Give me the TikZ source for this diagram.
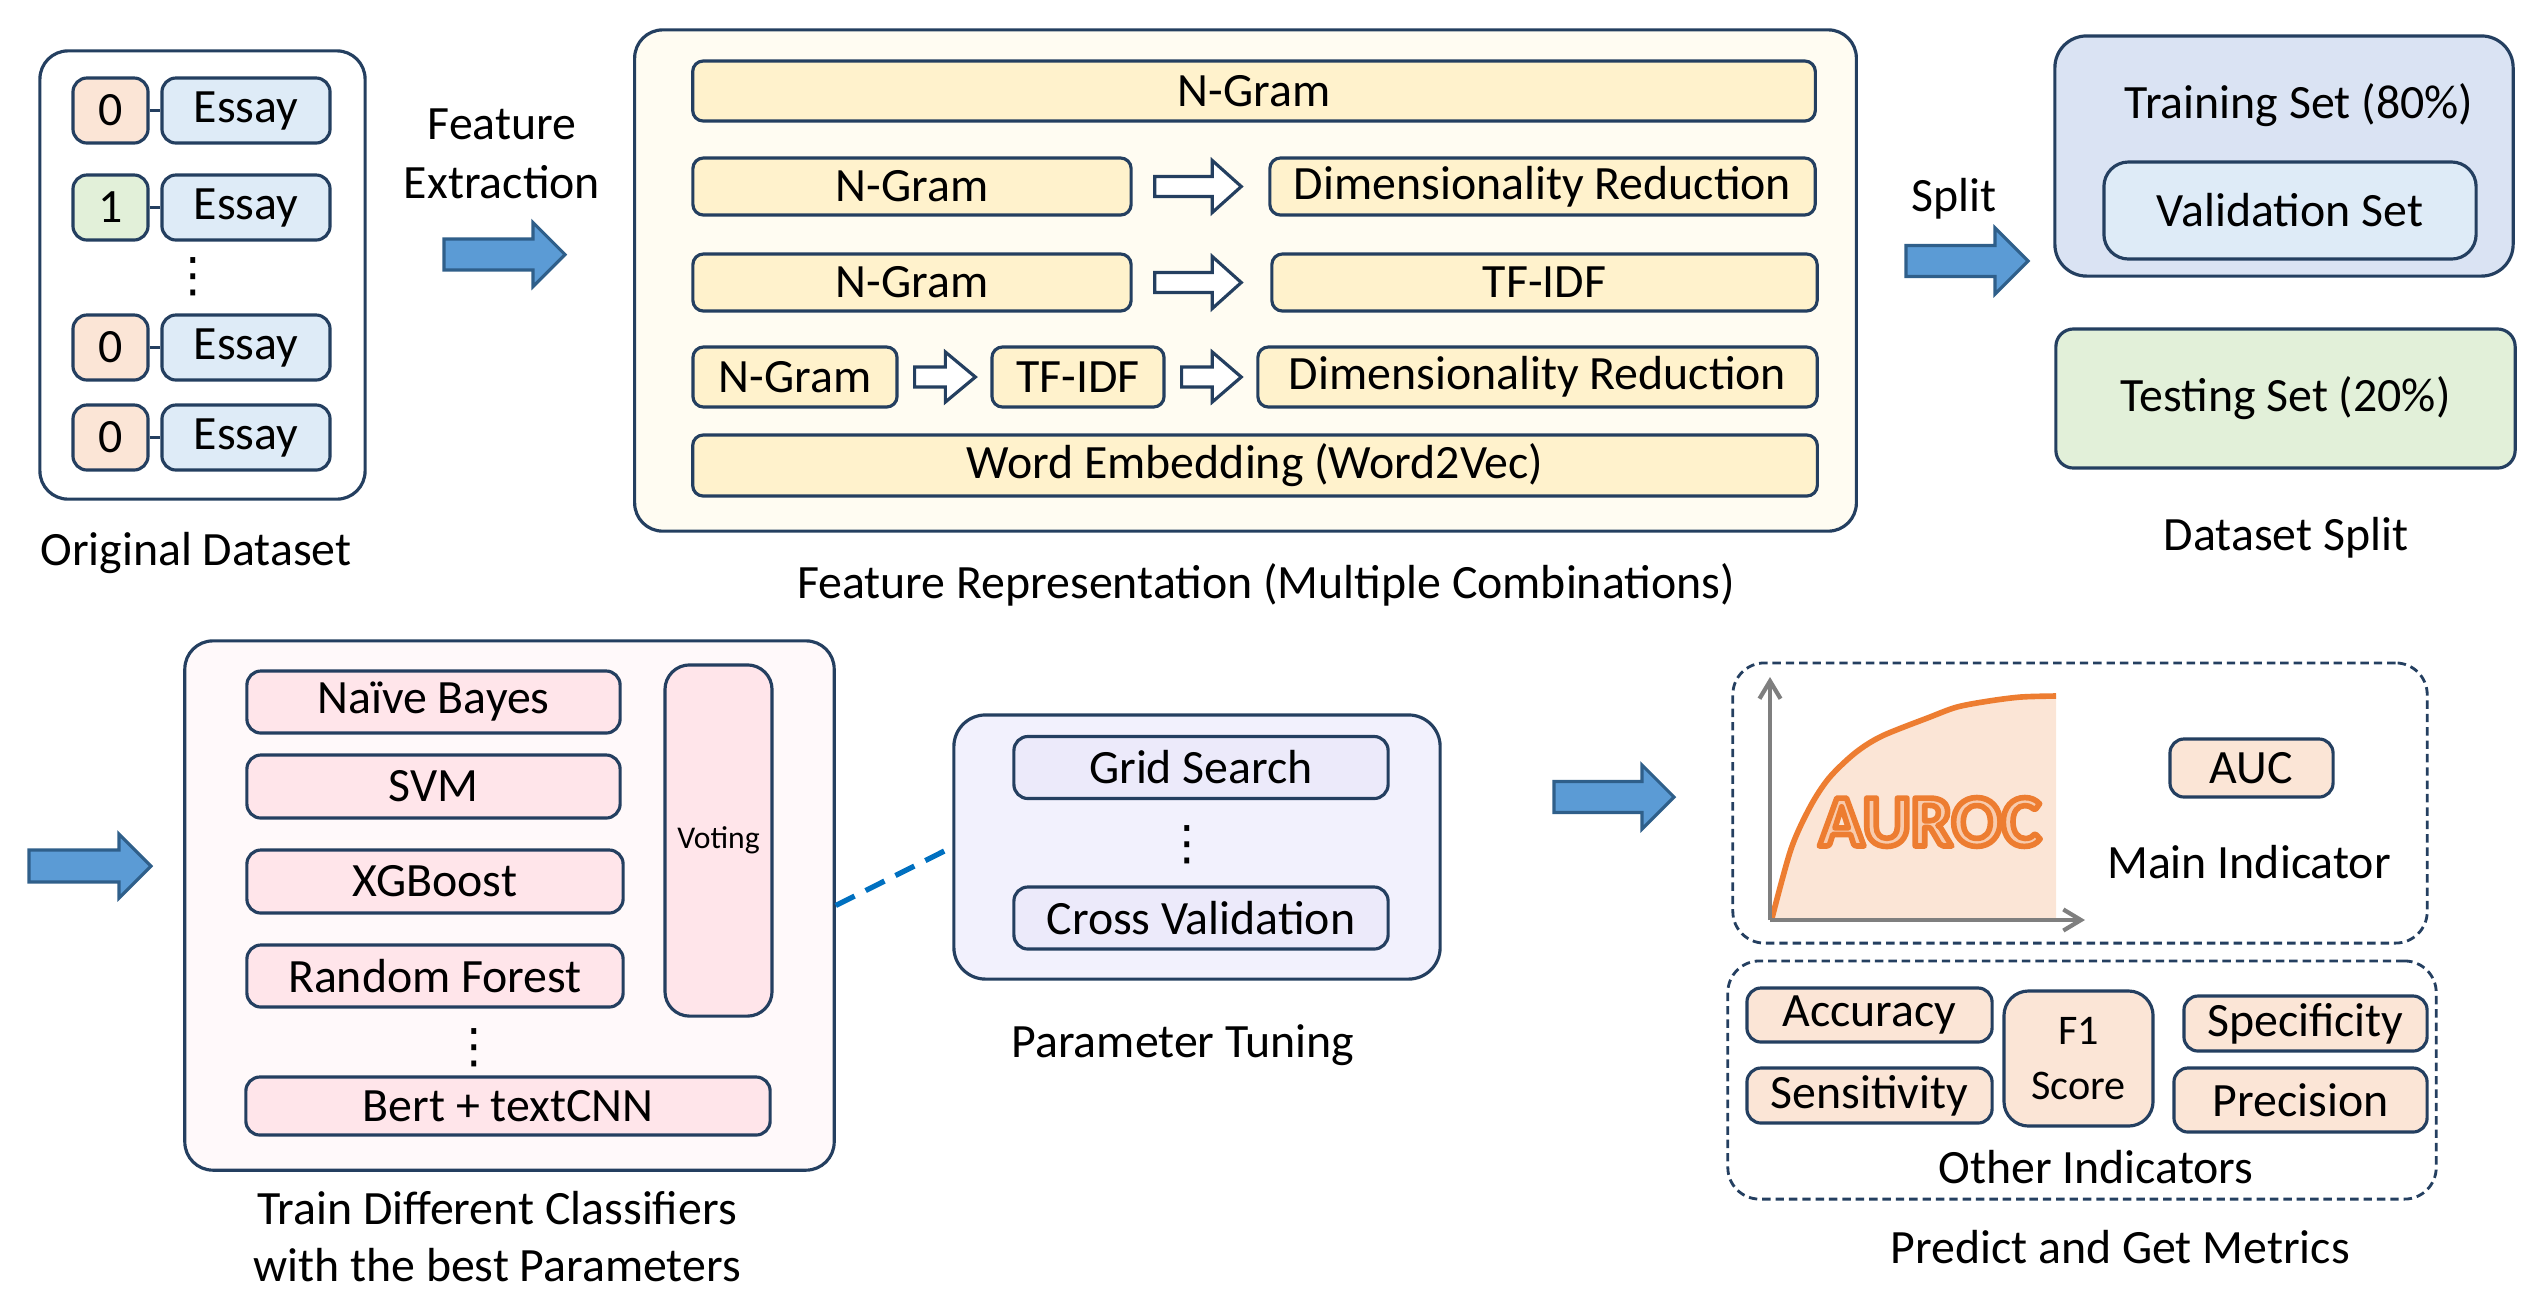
\documentclass[tikz,border=0pt]{standalone}
\usepackage{fontspec}
\setmainfont{Carlito}
\newfontfamily\symbolFont{DejaVu Sans}
\usetikzlibrary{arrows.meta, calc, positioning}
\definecolor{edgeBlue}{HTML}{243F60}
\definecolor{peach}{HTML}{FBE5D6}
\definecolor{greenFill}{HTML}{E2F0D9}
\definecolor{paleBlue}{HTML}{DEEBF7}
\definecolor{trainFill}{HTML}{DAE3F3}
\definecolor{cream}{HTML}{FFF2CC}
\definecolor{creamBg}{HTML}{FFFCF2}
\definecolor{pinkFill}{HTML}{FFE5EA}
\definecolor{pinkBg}{HTML}{FFF9FA}
\definecolor{lavBg}{HTML}{F2F1FD}
\definecolor{lavFill}{HTML}{ECEAFA}
\definecolor{arrowBlue}{HTML}{5B9BD5}
\definecolor{arrowEdge}{HTML}{2F5F8A}
\definecolor{linkBlue}{HTML}{0070C0}
\definecolor{axisGray}{HTML}{7F7F7F}
\definecolor{curveOrange}{HTML}{ED7D31}
\definecolor{aurocFill}{HTML}{F8CBAD}
\newcommand{\mainsize}{\fontsize{13.6}{16.6}\selectfont}
\tikzset{
    box/.style={draw=edgeBlue, line width=0.9pt, rounded corners=4pt, inner sep=0pt, align=center, font=\mainsize},
    outerBox/.style={box, rounded corners=8pt},
    labelBox/.style={box, minimum width=0.75cm, minimum height=0.65cm},
    essayBox/.style={box, fill=paleBlue, minimum width=1.68cm, minimum height=0.65cm},
    featBox/.style={box, fill=cream, rounded corners=3pt},
    clfBox/.style={box, fill=pinkFill},
    tuneBox/.style={box, fill=lavFill, minimum width=3.74cm, minimum height=0.62cm},
    metricBox/.style={box, fill=peach},
    groupBox/.style={draw=edgeBlue, line width=0.8pt, dash pattern=on 2.4pt off 1.4pt, rounded corners=9pt},
    caption/.style={font=\mainsize, align=center, inner sep=0pt},
    dotsText/.style={font=\symbolFont\fontsize{13.5}{14}\selectfont, inner sep=0pt},
    tie/.style={draw=edgeBlue, line width=0.9pt},
    bigArrow/.style={draw=arrowEdge, fill=arrowBlue, line width=0.9pt},
    hollowArrow/.style={draw=edgeBlue, fill=white, line width=0.9pt},
    tuneLink/.style={draw=linkBlue, line width=1.5pt, dash pattern=on 6pt off 3.5pt},
    axisLine/.style={draw=axisGray, line width=1.2pt, -{Straight Barb[length=5pt, width=6pt]}},
    aurocText/.style={font=\fontsize{21}{24}\selectfont\bfseries, inner sep=0pt},
}
% tail, tip, shaft half width, head half width, head length
\newcommand{\drawFatArrow}[6][bigArrow]{
    \draw[#1] ($(#2)+(0,-#4)$) -- ($(#3)+(-#6,-#4)$) -- ($(#3)+(-#6,-#5)$) -- (#3)
        -- ($(#3)+(-#6,#5)$) -- ($(#3)+(-#6,#4)$) -- ($(#2)+(0,#4)$) -- cycle;
}
% stroked and filled letters
\newcommand{\outlineWord}[1]{{\color{aurocFill}\special{pdf:literal direct 2 Tr 1.6 w 1 j 0.929 0.490 0.192 RG}#1\special{pdf:literal direct 0 Tr}}}

\begin{document}
\begin{tikzpicture}[x=0.01cm, y=-0.01cm]
    \useasboundingbox (0,0) rectangle (2540,1296);

    % original dataset
    \node[outerBox, fill=white, minimum width=3.25cm, minimum height=4.48cm] (data) at (202.5,275) {};
    \node[labelBox, fill=peach] (lab1) at (110.5,110.5) {0};
    \node[essayBox] (ess1) at (246,110.5) {Essay};
    \node[labelBox, fill=greenFill] (lab2) at (110.5,207.5) {1};
    \node[essayBox] (ess2) at (246,207.5) {Essay};
    \node[dotsText] (dotsA) at (193,277) {⋮};
    \node[labelBox, fill=peach] (lab3) at (110.5,347.5) {0};
    \node[essayBox] (ess3) at (246,347.5) {Essay};
    \node[labelBox, fill=peach] (lab4) at (110.5,437.5) {0};
    \node[essayBox] (ess4) at (246,437.5) {Essay};
    \draw[tie] (lab1) -- (ess1);
    \draw[tie] (lab2) -- (ess2);
    \draw[tie] (lab3) -- (ess3);
    \draw[tie] (lab4) -- (ess4);
    \node[caption] (dataCap) at (196,553) {Original Dataset};

    \node[caption, font=\fontsize{13.6}{16.8}\selectfont] (extractCap) at (502,154) {Feature\\Extraction};
    \coordinate (extTail) at (444,254.5);
    \coordinate (extTip) at (565,254.5);
    \drawFatArrow{extTail}{extTip}{15.5}{32}{32}

    % feature representation
    \node[outerBox, fill=creamBg, minimum width=12.21cm, minimum height=5.01cm] (feat) at (1245.5,280.5) {};
    \node[featBox, minimum width=11.22cm, minimum height=0.6cm] (ngA) at (1254,91) {N-Gram};
    \node[featBox, minimum width=4.38cm, minimum height=0.57cm] (ngB) at (912,186.5) {N-Gram};
    \node[featBox, minimum width=5.45cm, minimum height=0.57cm] (drB) at (1542.5,186.5) {Dimensionality Reduction};
    \node[featBox, minimum width=4.38cm, minimum height=0.57cm] (ngC) at (912,282.5) {N-Gram};
    \node[featBox, minimum width=5.45cm, minimum height=0.57cm] (tfC) at (1544.5,282.5) {TF-IDF};
    \node[featBox, minimum width=2.04cm, minimum height=0.6cm] (ngD) at (795,377) {N-Gram};
    \node[featBox, minimum width=1.72cm, minimum height=0.6cm] (tfD) at (1078,377) {TF-IDF};
    \node[featBox, minimum width=5.59cm, minimum height=0.6cm] (drD) at (1537.5,377) {Dimensionality Reduction};
    \node[featBox, minimum width=11.24cm, minimum height=0.61cm] (w2v) at (1255,465.5) {Word Embedding (Word2Vec)};
    \coordinate (hB1) at ($(ngB.east)+(22,0)$);
    \coordinate (hB2) at ($(drB.west)+(-27,0)$);
    \coordinate (hC1) at ($(ngC.east)+(22,0)$);
    \coordinate (hC2) at ($(tfC.west)+(-29,0)$);
    \coordinate (hD1) at ($(ngD.east)+(16,0)$);
    \coordinate (hD2) at ($(tfD.west)+(-15,0)$);
    \coordinate (hD3) at ($(tfD.east)+(16,0)$);
    \coordinate (hD4) at ($(drD.west)+(-15,0)$);
    \drawFatArrow[hollowArrow]{hB1}{hB2}{10}{26}{29}
    \drawFatArrow[hollowArrow]{hC1}{hC2}{10}{26}{29}
    \drawFatArrow[hollowArrow]{hD1}{hD2}{10}{25}{30}
    \drawFatArrow[hollowArrow]{hD3}{hD4}{10}{25}{29}
    \node[caption] (featCap) at (1266,585) {Feature Representation (Multiple Combinations)};

    % dataset split
    \node[caption] (splitCap) at (1954,199) {Split};
    \coordinate (splTail) at (1906,261);
    \coordinate (splTip) at (2028,261);
    \drawFatArrow{splTail}{splTip}{15.5}{33}{33}
    \node[outerBox, fill=trainFill, rounded corners=9pt, minimum width=4.58cm, minimum height=2.4cm] (train) at (2284,156) {};
    \node[caption] (trainTxt) at (2299,105) {Training Set (80\%)};
    \node[box, fill=paleBlue, rounded corners=7pt, minimum width=3.72cm, minimum height=0.97cm] (valid) at (2290,210.5) {Validation Set};
    \node[box, fill=greenFill, rounded corners=5pt, minimum width=4.59cm, minimum height=1.39cm] (test) at (2285.5,398.5) {Testing Set (20\%)};
    \node[caption] (splitSetCap) at (2286,538) {Dataset Split};

    % classifiers
    \coordinate (clfTail) at (29,866);
    \coordinate (clfTip) at (151,866);
    \drawFatArrow{clfTail}{clfTip}{16}{32}{32}
    \node[outerBox, fill=pinkBg, minimum width=6.49cm, minimum height=5.29cm] (clf) at (509.5,905.5) {};
    \node[clfBox, minimum width=3.73cm, minimum height=0.62cm] (nb) at (433.5,702) {Naïve Bayes};
    \node[clfBox, minimum width=3.73cm, minimum height=0.63cm] (svm) at (433.5,786.5) {SVM};
    \node[clfBox, minimum width=3.76cm, minimum height=0.63cm] (xgb) at (435,881.5) {XGBoost};
    \node[clfBox, minimum width=3.76cm, minimum height=0.62cm] (rf) at (435,976) {Random Forest};
    \node[clfBox, rounded corners=7pt, minimum width=1.07cm, minimum height=3.51cm, font=\fontsize{9}{11}\selectfont] (vote) at (718.5,840.5) {Voting};
    \node[dotsText] (dotsB) at (474,1048) {⋮};
    \node[clfBox, minimum width=5.24cm, minimum height=0.58cm] (bert) at (508,1106) {Bert + textCNN};
    \node[caption, font=\fontsize{13.6}{16.2}\selectfont] (clfCap) at (497,1237) {Train Different Classifiers\\with the best Parameters};

    % parameter tuning
    \node[outerBox, fill=lavBg, rounded corners=9pt, minimum width=4.86cm, minimum height=2.64cm] (tune) at (1197,847) {};
    \node[tuneBox] (grid) at (1201,767.5) {Grid Search};
    \node[dotsText] (dotsC) at (1187,845) {⋮};
    \node[tuneBox] (cv) at (1201,918) {Cross Validation};
    \node[caption] (tuneCap) at (1183,1045) {Parameter Tuning};
    \draw[tuneLink] (clf.east) -- (tune.west);

    \coordinate (metTail) at (1554,797);
    \coordinate (metTip) at (1674,797);
    \drawFatArrow{metTail}{metTip}{15.5}{32}{32}

    % metrics
    \node[groupBox, minimum width=6.94cm, minimum height=2.8cm] (mainGrp) at (2080,803) {};
    \coordinate (rocO) at (1770,920);
    \coordinate (rocY) at (1770,677);
    \coordinate (rocX) at (2085,920);
    \fill[peach] (1772,920) -- plot[smooth] coordinates {(1772,918) (1791,849) (1810,807) (1829,778) (1855,753) (1882,736) (1930,717) (1957,707) (1989,701) (2021,697) (2056,696)} -- (2056,920) -- cycle;
    \draw[curveOrange, line width=1.6pt] plot[smooth] coordinates {(1772,918) (1791,849) (1810,807) (1829,778) (1855,753) (1882,736) (1930,717) (1957,707) (1989,701) (2021,697) (2056,696)};
    \draw[axisLine] (rocO) -- (rocY);
    \draw[axisLine] (rocO) -- (rocX);
    \node[aurocText] (auroc) at (1930,822) {\outlineWord{AUROC}};
    \node[metricBox, minimum width=1.63cm, minimum height=0.58cm] (auc) at (2251.5,768) {AUC};
    \node[caption] (mainCap) at (2249,862) {Main Indicator};

    \node[groupBox, minimum width=7.08cm, minimum height=2.38cm] (otherGrp) at (2082,1080) {};
    \node[metricBox, minimum width=2.45cm, minimum height=0.54cm] (acc) at (1869.5,1015) {Accuracy};
    \node[metricBox, minimum width=2.45cm, minimum height=0.55cm] (sens) at (1869.5,1095.5) {Sensitivity};
    \node[metricBox, rounded corners=7pt, minimum width=1.49cm, minimum height=1.35cm, font=\fontsize{12}{15.4}\selectfont] (f1) at (2078.5,1058.5) {F1\\Score};
    \node[metricBox, minimum width=2.43cm, minimum height=0.55cm] (spec) at (2305.5,1023.5) {Specificity};
    \node[metricBox, minimum width=2.53cm, minimum height=0.64cm] (prec) at (2300.5,1100) {Precision};
    \node[caption] (otherCap) at (2096,1167) {Other Indicators};
    \node[caption] (metCap) at (2120,1247) {Predict and Get Metrics};
\end{tikzpicture}
\end{document}
